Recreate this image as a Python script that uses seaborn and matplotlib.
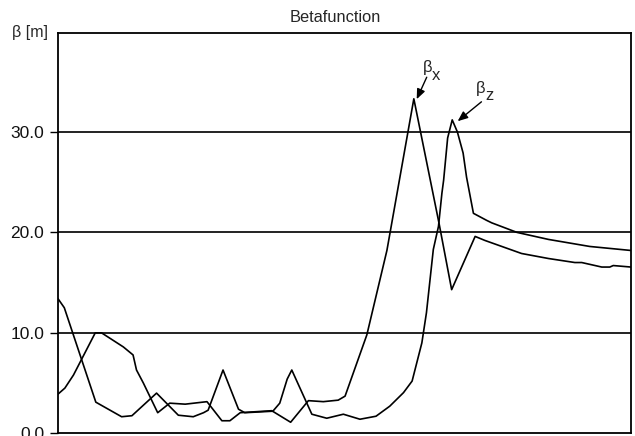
import numpy as np
import pandas as pd
import matplotlib
matplotlib.use("Agg")
import matplotlib.pyplot as plt
import seaborn as sns

# position along the lattice (arbitrary units, 0..100)
s_x = [0.0, 1.2, 2.7, 6.5, 7.6, 11.4, 13.1, 13.7, 14.9, 17.4, 19.5, 22.2, 26.0,
       28.6, 30.0, 31.8, 37.3, 40.6, 43.7, 46.3, 48.9, 50.1, 53.9, 57.4, 62.1,
       66.5, 68.7, 72.8, 74.5, 80.9, 85.6, 90.2, 91.4, 94.9, 96.3, 96.9, 100.0]
beta_x = [3.9, 4.5, 5.8, 10.0, 10.0, 8.6, 7.8, 6.3, 5.0, 2.05, 3.0, 2.9, 3.15,
          1.25, 1.25, 2.05, 2.25, 1.1, 3.25, 3.15, 3.3, 3.7, 9.8, 18.2, 33.3,
          20.9, 14.3, 19.6, 19.2, 17.9, 17.4, 17.0, 17.0, 16.55, 16.55, 16.7, 16.55]

s_z = [0.0, 1.1, 6.6, 11.1, 12.9, 17.2, 21.0, 23.6, 25.4, 26.2, 28.8, 31.5, 32.6,
       37.5, 38.7, 40.0, 40.8, 44.3, 46.9, 49.8, 52.7, 55.5, 57.9, 60.3, 61.8,
       63.5, 64.3, 65.5, 66.4, 67.0, 67.3, 68.0, 68.8, 69.7, 70.7, 71.3, 72.5,
       74.8, 75.7, 80.1, 85.6, 92.8, 100.0]
beta_z = [13.4, 12.5, 3.1, 1.65, 1.75, 4.0, 1.8, 1.65, 2.05, 2.3, 6.3, 2.4, 2.05,
          2.2, 3.0, 5.4, 6.3, 1.9, 1.5, 1.9, 1.4, 1.7, 2.7, 4.05, 5.2,
          9.0, 12.0, 18.3, 20.6, 23.9, 25.2, 29.4, 31.2, 30.0, 27.9, 25.5, 21.9,
          21.2, 20.95, 20.0, 19.3, 18.6, 18.2]

y_ticks = [0, 10, 20, 30]
title = "Betafunction"
y_label = "β [m]"

sns.set_style("white")
plt.rcParams["font.family"] = ["Liberation Sans", "DejaVu Sans"]

W, H = 635, 436
fig = plt.figure(figsize=(W / 100, H / 100), dpi=100)
ax = fig.add_axes([58 / W, 1 - 433.3 / H, (631 - 58) / W, (433.3 - 33) / H])

df = pd.concat([
    pd.DataFrame({"s": s_x, "beta": beta_x, "plane": "x"}),
    pd.DataFrame({"s": s_z, "beta": beta_z, "plane": "z"}),
])
sns.lineplot(data=df, x="s", y="beta", units="plane", estimator=None,
             color="black", linewidth=1.2, sort=False, ax=ax, legend=False)

ax.set_xlim(0, 100)
ax.set_ylim(0, 39.85)
ax.set_yticks(y_ticks)
ax.set_yticklabels([f"{v:.1f}" for v in y_ticks], fontsize=12.5)
ax.set_xticks([])
ax.set_xlabel("")
ax.set_ylabel("")
ax.tick_params(axis="y", direction="out", length=6, width=1, color="black",
               left=True, pad=4, labelcolor="#111111")
for v in y_ticks[1:]:
    ax.axhline(v, color="#222222", linewidth=1.4, zorder=0)
for sp in ax.spines.values():
    sp.set_visible(True)
    sp.set_color("black")
    sp.set_linewidth(1.3)

# annotations
arrow = dict(arrowstyle="-|>,head_length=0.6,head_width=0.25", color="black",
             lw=1.0, shrinkA=0, shrinkB=0)
ax.annotate("", xy=(62.6, 33.26), xytext=(64.35, 35.45), arrowprops=arrow)
ax.annotate("", xy=(69.75, 31.07), xytext=(73.9, 33.0), arrowprops=arrow)
ax.text(63.6, 36.4, "β", fontsize=12, ha="left", va="center")
ax.text(65.3, 35.6, "x", fontsize=12, ha="left", va="center")
ax.text(72.9, 34.3, "β", fontsize=12, ha="left", va="center")
ax.text(74.6, 33.6, "z", fontsize=12, ha="left", va="center")

fig.text(335 / W, 1 - 18 / H, title, fontsize=11.8, ha="center", va="center")
fig.text(12 / W, 1 - 33 / H, y_label, fontsize=11.5, ha="left", va="center")

fig.savefig("out.png", dpi=100)
